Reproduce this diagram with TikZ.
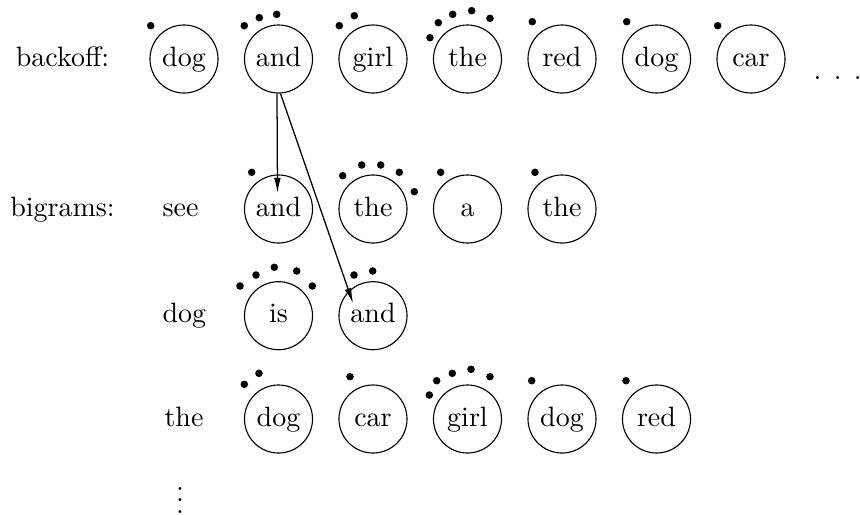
\documentclass[tikz,border=0pt]{standalone}
\usetikzlibrary{arrows.meta,calc}
\begin{document}
\begin{tikzpicture}[x=0.35714pt,y=-0.35714pt,
  word/.style={draw,circle,minimum size=24.3pt,inner sep=0pt,text height=6.94pt,text depth=1.94pt},
  lbl/.style={inner sep=0pt,text height=6.94pt,text depth=1.94pt},
  dotmark/.style={fill=black},
  link/.style={-{Latex[length=5.4pt,width=2.4pt]},line width=0.45pt}]
\useasboundingbox (0,0) rectangle (860,514);
% labels
\node[lbl] (lb1) at (62.5,59) {backoff:};
\node[lbl] (lb2) at (62.5,209) {bigrams:};
\node[lbl,anchor=west] (h2) at (162,209) {see};
\node[lbl,anchor=west] (h3) at (162,315.7) {dog};
\node[lbl,anchor=west] (h4) at (164,419) {the};
\node[inner sep=0pt,anchor=base] (vd) at (180,513) {$\vdots$};
\node[inner sep=0pt,anchor=base west] (el) at (813,79) {. . .};
% row 1
\node[word] (a1) at (184,59) {dog};
\node[word] (a2) at (278.5,59) {and};
\node[word] (a3) at (373,59) {girl};
\node[word] (a4) at (467.5,59) {the};
\node[word] (a5) at (562,59) {red};
\node[word] (a6) at (656.5,59) {dog};
\node[word] (a7) at (751,59) {car};
% row 2
\node[word] (b1) at (278.5,209) {and};
\node[word] (b2) at (373,209) {the};
\node[word] (b3) at (467.5,209) {a};
\node[word] (b4) at (562,209) {the};
% row 3
\node[word] (c1) at (278.5,315.7) {is};
\node[word] (c2) at (373,315.7) {and};
% row 4
\node[word] (d1) at (278.5,419) {dog};
\node[word] (d2) at (373,419) {car};
\node[word] (d3) at (467.5,419) {girl};
\node[word] (d4) at (562,419) {dog};
\node[word] (d5) at (656.5,419) {red};
% arrows
\coordinate (t1) at ($(b1.center)+(-1,-16)$);
\coordinate (t2) at ($(c2.center)+(-20,-12.5)$);
\draw[link] ($(a2.south)+(-1.5,0)$) -- (t1);
\draw[link] ($(a2.south)+(2,0)$) -- (t2);
% dots
\foreach \p in {(150.7,25.7),(244.3,25.7),(259.3,17.7),(276.7,14.3),(339.3,25.7),(354.3,15.7),
  (430,37.7),(438.3,22.7),(452.7,14.3),(471.7,10.7),(490,18.3),(532.3,21.7),(626.7,21.7),(717.7,25.7),
  (251.7,172.3),(342.7,175.7),(361.7,165),(380.7,165),(399.3,172.3),(414.3,191.7),(440.7,172.3),(535,172.3),
  (240,286),(256,275),(274.3,267.3),(296.7,271),(312.3,286),(354,275),(372.7,271),
  (244.3,384.3),(259,373.3),(350,376.7),(429.3,395),(436.7,380.7),(452.3,373.3),(471,369.3),(490,376.7),
  (531.7,380.7),(626,380.7)}
  \fill[dotmark] \p circle[radius=1.35pt];
\end{tikzpicture}
\end{document}
